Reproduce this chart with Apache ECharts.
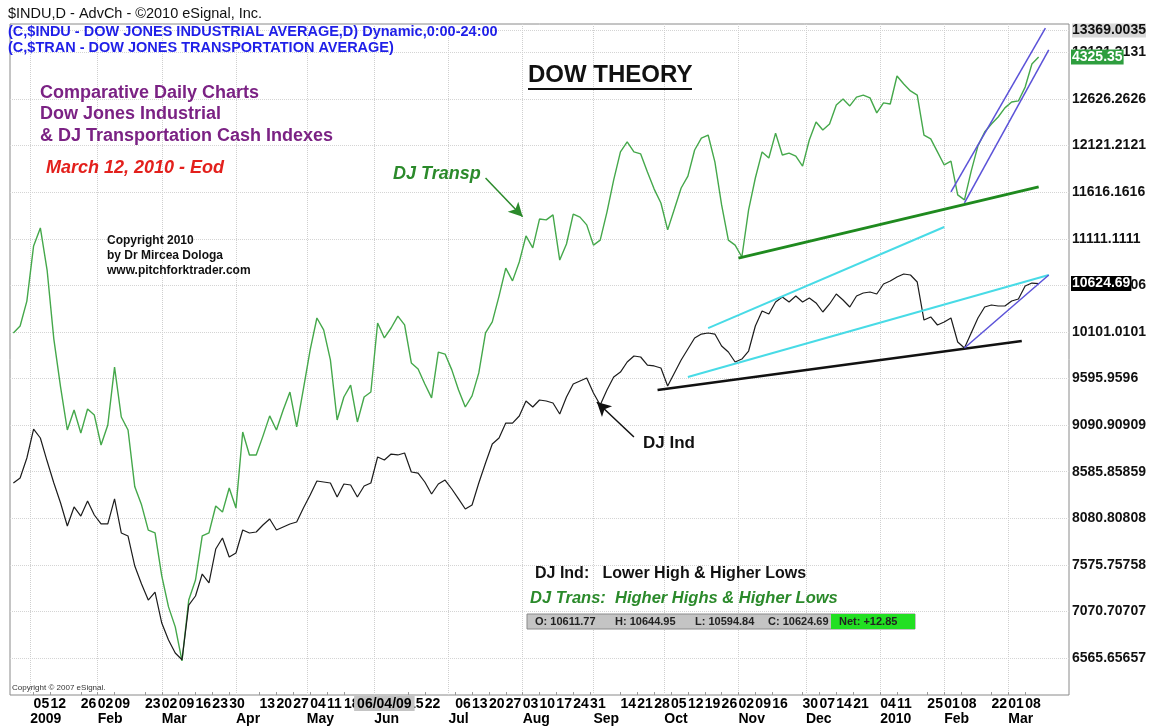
<!DOCTYPE html>
<html>
<head>
<meta charset="utf-8">
<title>Dow Theory</title>
<script src="https://cdn.jsdelivr.net/npm/echarts@6/dist/echarts.min.js"></script>
<style>
html, body { margin: 0; padding: 0; background: #fff; }
#chart { width: 1152px; height: 726px; }
</style>
</head>
<body>
<div id="chart"></div>
<script>
// trading calendar shown on the chart (last bar is Mar 12 2010, the rest is blank space)
var firstDay = '2008-12-23';
var lastDay = '2010-03-25';
var holidays = ['2008-12-25', '2009-01-01', '2009-01-19', '2009-02-16', '2009-04-10', '2009-05-25',
    '2009-07-03', '2009-09-07', '2009-11-26', '2009-12-25', '2010-01-01', '2010-01-18', '2010-02-15'];

// daily closes, every 2nd trading day starting Dec 24 2008 (bar 1)
var indu = [
    8463, 8517, 8734, 9048, 8951, 8701, 8463, 8246, 7997, 8203,
    8105, 8268, 8116, 8019, 8019, 8290, 7921, 7888, 7563, 7368,
    7194, 7281, 6945, 6761, 6620, 6547, 7140, 7238, 7476, 7379,
    7747, 7867, 7661, 7704, 7953, 7921, 7932, 8008, 8073, 7953,
    7986, 8019, 8040, 8192, 8333, 8485, 8474, 8463, 8311, 8452,
    8441, 8311, 8430, 8463, 8745, 8712, 8777, 8767, 8788, 8582,
    8571, 8474, 8344, 8452, 8495, 8398, 8290, 8181, 8224, 8463,
    8680, 8886, 8951, 9113, 9113, 9189, 9352, 9287, 9363, 9352,
    9330, 9211, 9395, 9536, 9569, 9601, 9439, 9309, 9471, 9612,
    9666, 9775, 9840, 9829, 9742, 9732, 9710, 9515, 9656, 9797,
    9916, 10035, 10078, 10089, 10078, 9948, 9883, 9775, 9807, 9894,
    10165, 10328, 10295, 10425, 10480, 10425, 10490, 10425, 10469, 10415,
    10317, 10404, 10512, 10447, 10371, 10490, 10523, 10534, 10512, 10621,
    10653, 10696, 10729, 10718, 10642, 10230, 10263, 10176, 10209, 10252,
    9992, 9927, 10089, 10252, 10371, 10393, 10382, 10382, 10436, 10458,
    10599, 10631, 10624.69
];
var tran = [
    3330, 3355, 3445, 3644, 3709, 3557, 3308, 3135, 2980, 3052,
    2969, 3056, 3034, 2926, 2998, 3207, 3027, 2980, 2775, 2710,
    2619, 2609, 2454, 2342, 2270, 2147, 2367, 2439, 2598, 2609,
    2706, 2684, 2771, 2699, 2973, 2890, 2890, 2958, 3031, 2980,
    3052, 3117, 2991, 3128, 3269, 3384, 3341, 3233, 3016, 3099,
    3142, 3009, 3099, 3117, 3366, 3312, 3348, 3391, 3359, 3222,
    3200, 3146, 3096, 3261, 3254, 3197, 3124, 3063, 3103, 3186,
    3330, 3370, 3463, 3564, 3518, 3586, 3680, 3637, 3741, 3738,
    3756, 3593, 3651, 3759, 3748, 3720, 3647, 3665, 3766, 3882,
    3983, 4019, 3983, 3976, 3911, 3849, 3799, 3702, 3777, 3853,
    3896, 3990, 4033, 4044, 3947, 3792, 3665, 3647, 3604, 3774,
    3889, 3983, 3961, 4051, 3972, 3979, 3968, 3932, 4026, 4091,
    4062, 4084, 4152, 4174, 4149, 4181, 4188, 4178, 4124, 4160,
    4156, 4257, 4228, 4203, 4188, 4044, 4030, 3983, 3936, 3950,
    3828, 3810, 3914, 4005, 4055, 4084, 4109, 4142, 4163, 4167,
    4217, 4300, 4325.35
];
var sampleStart = 1, sampleStep = 2;

var lastIndu = 10624.69;
var lastTran = 4325.35;

// right axis labels as printed by eSignal
var priceLabels = ['6565.65657', '7070.70707', '7575.75758', '8080.80808', '8585.85859', '9090.90909',
    '9595.9596', '10101.0101', '10606.0606', '11111.1111', '11616.1616', '12121.2121', '12626.2626',
    '13131.3131', '13369.0035'];

// bottom axis: weekly day labels, month labels, cursor date box
var dayLabels = ['2009-01-05', '2009-01-12', '2009-01-26', '2009-02-02', '2009-02-09', '2009-02-23',
    '2009-03-02', '2009-03-09', '2009-03-16', '2009-03-23', '2009-03-30', '2009-04-13', '2009-04-20',
    '2009-04-27', '2009-05-04', '2009-05-11', '2009-05-18', '2009-06-15', '2009-06-22', '2009-07-06',
    '2009-07-13', '2009-07-20', '2009-07-27', '2009-08-03', '2009-08-10', '2009-08-17', '2009-08-24',
    '2009-08-31', '2009-09-14', '2009-09-21', '2009-09-28', '2009-10-05', '2009-10-12', '2009-10-19',
    '2009-10-26', '2009-11-02', '2009-11-09', '2009-11-16', '2009-11-30', '2009-12-07', '2009-12-14',
    '2009-12-21', '2010-01-04', '2010-01-11', '2010-01-25', '2010-02-01', '2010-02-08', '2010-02-22',
    '2010-03-01', '2010-03-08'];
var monthLabels = [['2009-01-02', '2009'], ['2009-02-02', 'Feb'], ['2009-03-02', 'Mar'], ['2009-04-01', 'Apr'],
    ['2009-05-01', 'May'], ['2009-06-01', 'Jun'], ['2009-07-01', 'Jul'], ['2009-08-03', 'Aug'],
    ['2009-09-01', 'Sep'], ['2009-10-01', 'Oct'], ['2009-11-02', 'Nov'], ['2009-12-01', 'Dec'],
    ['2010-01-04', '2010'], ['2010-02-01', 'Feb'], ['2010-03-01', 'Mar']];
var cursorDay = ['2009-06-04', '06/04/09'];

// hand drawn trend lines: [bar, value] pairs
var tranSupport = [[216, 3600], [305, 3857]];
var tranChannelHigh = [[279, 3839], [307, 4430]];
var tranChannelLow = [[283, 3799], [308, 4351]];
var induSupport = [[192, 9471], [300, 10003]];
var induCyanHigh = [[207, 10143], [277, 11239]];
var induCyanLow = [[201, 9612], [308, 10718]];
var induChannel = [[283, 9927], [308, 10718]];
var tranArrow = [[141, 3889], [152, 3749]];
var induArrow = [[185, 8962], [174, 9341]];

function iso(d) {
    return d.toISOString().slice(0, 10);
}

var days = [];
var holidaySet = new Set(holidays);
for (var t = Date.parse(firstDay + 'T00:00:00Z'); t <= Date.parse(lastDay + 'T00:00:00Z'); t += 86400000) {
    var d = new Date(t);
    var wd = d.getUTCDay();
    if (wd == 0 || wd == 6 || holidaySet.has(iso(d))) {
        continue;
    }
    days.push(iso(d));
}

var daySet = new Set(dayLabels);
var monthMap = {};
monthLabels.forEach(function (m) { monthMap[m[0]] = m[1]; });
var priceMap = {};
priceLabels.forEach(function (s) { priceMap[parseFloat(s).toFixed(3)] = s; });

function toPairs(arr) {
    return arr.map(function (v, k) { return [sampleStart + k * sampleStep, v]; });
}

var FONT = 'Arial, "Liberation Sans", Helvetica, sans-serif';

function trend(name, pts, color, width, axis) {
    return {
        name: name,
        type: 'line',
        yAxisIndex: axis,
        data: pts,
        symbol: 'none',
        silent: true,
        z: 4,
        lineStyle: { color: color, width: width }
    };
}

function arrow(name, pts, color, axis) {
    return {
        name: name,
        type: 'line',
        yAxisIndex: axis,
        data: [],
        silent: true,
        markLine: {
            silent: true,
            symbol: ['none', 'arrow'],
            symbolSize: [11, 14],
            label: { show: false },
            lineStyle: { color: color, width: 1.5, type: 'solid' },
            data: [[{ coord: pts[0] }, { coord: pts[1] }]]
        }
    };
}

// invisible horizontal line whose end label sits on the price scale
function lastValue(value, bg) {
    return {
        silent: true,
        symbol: 'none',
        lineStyle: { color: 'rgba(0,0,0,0)', width: 0, opacity: 1 },
        label: {
            show: true,
            position: 'end',
            distance: 2,
            formatter: String(value),
            color: '#fff',
            backgroundColor: bg,
            fontFamily: FONT,
            fontWeight: 'bold',
            fontSize: 14,
            padding: [1, 1, 0, 1]
        },
        data: [{ yAxis: value }]
    };
}

function text(x, y, str, font, color) {
    return { type: 'text', x: x, y: y, z: 100, style: { text: str, font: font, fill: color } };
}

var labelFont = { color: '#000', fontFamily: FONT, fontWeight: 'bold', fontSize: 14 };

var option = {
    animation: false,
    backgroundColor: '#fff',
    grid: {
        left: 10,
        right: 83,
        top: 24,
        bottom: 31,
        show: true,
        borderColor: '#8a8a8a',
        borderWidth: 1,
        backgroundColor: '#fff'
    },
    xAxis: [
        {
            type: 'category',
            data: days,
            boundaryGap: false,
            axisLine: { show: false },
            axisTick: {
                show: true,
                inside: true,
                length: 3,
                interval: function (i, v) { return daySet.has(v); },
                lineStyle: { color: '#999' }
            },
            axisLabel: Object.assign({
                interval: function (i, v) { return daySet.has(v); },
                formatter: function (v) { return v.slice(8); },
                align: 'left',
                margin: 2
            }, labelFont),
            splitLine: { show: false }
        },
        {
            type: 'category',
            data: days,
            boundaryGap: false,
            position: 'bottom',
            offset: 15,
            axisLine: { show: false },
            axisTick: { show: false },
            axisLabel: Object.assign({
                interval: function (i, v) { return monthMap[v] !== undefined; },
                formatter: function (v) { return monthMap[v]; },
                align: 'left',
                margin: 2
            }, labelFont),
            splitLine: {
                show: true,
                interval: function (i, v) { return monthMap[v] !== undefined; },
                lineStyle: { color: '#cfcfcf', type: 'dotted', width: 1 }
            }
        },
        {
            // cursor date box drawn over the day labels
            type: 'category',
            data: days,
            boundaryGap: false,
            position: 'bottom',
            axisLine: { show: false },
            axisTick: { show: false },
            splitLine: { show: false },
            axisLabel: Object.assign({
                interval: function (i, v) { return v == cursorDay[0]; },
                formatter: function () { return cursorDay[1]; },
                align: 'center',
                margin: 1,
                backgroundColor: '#c4c4c4',
                padding: [1, 3, 0, 3]
            }, labelFont)
        }
    ],
    yAxis: [
        {
            type: 'value',
            position: 'right',
            min: 6164.5,
            max: 13439.5,
            axisLine: { show: false },
            axisTick: {
                show: false,
                customValues: priceLabels.map(parseFloat)
            },
            axisLabel: {
                customValues: priceLabels.map(parseFloat),
                margin: 3,
                color: '#111',
                fontFamily: FONT,
                fontWeight: 'bold',
                fontSize: 14,
                formatter: function (v) {
                    var s = priceMap[v.toFixed(3)] || String(v);
                    return s == '13369.0035' ? '{top|' + s + '}' : s;
                },
                rich: {
                    top: { backgroundColor: '#d8d8d8', color: '#111', fontFamily: FONT, fontWeight: 'bold', fontSize: 14 }
                }
            },
            splitLine: {
                show: true,
                lineStyle: { color: '#d4d4d4', type: 'dotted', width: 1 }
            }
        },
        {
            type: 'value',
            position: 'right',
            min: 2024.2,
            max: 4444.5,
            show: false,
            splitLine: { show: false }
        }
    ],
    graphic: [
        text(8, 6, '$INDU,D - AdvCh - \u00a92010 eSignal, Inc.', '14.5px ' + FONT, '#111'),
        text(8, 24, '(C,$INDU - DOW JONES INDUSTRIAL AVERAGE,D) Dynamic,0:00-24:00', 'bold 14.5px ' + FONT, '#1f1fe8'),
        text(8, 40, '(C,$TRAN - DOW JONES TRANSPORTATION AVERAGE)', 'bold 14.5px ' + FONT, '#1f1fe8'),
        text(528, 63, 'DOW THEORY', 'bold 24px ' + FONT, '#111'),
        { type: 'line', z: 100, shape: { x1: 528, y1: 89, x2: 692, y2: 89 }, style: { stroke: '#111', lineWidth: 2 } },
        text(40, 84, 'Comparative Daily Charts', 'bold 18px ' + FONT, '#7b2284'),
        text(40, 105, 'Dow Jones Industrial', 'bold 18px ' + FONT, '#7b2284'),
        text(40, 127, '& DJ Transportation Cash Indexes', 'bold 18px ' + FONT, '#7b2284'),
        text(46, 159, 'March 12, 2010 - Eod', 'italic bold 18px ' + FONT, '#e3201c'),
        text(393, 165, 'DJ Transp', 'italic bold 18px ' + FONT, '#2b8a2b'),
        text(107, 235, 'Copyright 2010', 'bold 12px ' + FONT, '#111'),
        text(107, 250, 'by Dr Mircea Dologa', 'bold 12px ' + FONT, '#111'),
        text(107, 265, 'www.pitchforktrader.com', 'bold 12px ' + FONT, '#111'),
        text(643, 435, 'DJ Ind', 'bold 17px ' + FONT, '#111'),
        text(535, 566, 'DJ Ind:   Lower High & Higher Lows', 'bold 16px ' + FONT, '#111'),
        text(530, 590, 'DJ Trans:  Higher Highs & Higher Lows', 'italic bold 16.5px ' + FONT, '#2b8a2b'),
        { type: 'rect', z: 100, shape: { x: 527, y: 614, width: 388, height: 15 }, style: { fill: '#c4c4c4', stroke: '#8a8a8a' } },
        { type: 'rect', z: 101, shape: { x: 831, y: 614, width: 84, height: 15 }, style: { fill: '#22e022' } },
        text(535, 616, 'O: 10611.77', 'bold 11px ' + FONT, '#222'),
        text(615, 616, 'H: 10644.95', 'bold 11px ' + FONT, '#222'),
        text(695, 616, 'L: 10594.84', 'bold 11px ' + FONT, '#222'),
        text(768, 616, 'C: 10624.69', 'bold 11px ' + FONT, '#222'),
        { type: 'text', x: 839, y: 616, z: 102, style: { text: 'Net: +12.85', font: 'bold 11px ' + FONT, fill: '#222' } },
        text(12, 684, 'Copyright \u00a9 2007 eSignal.', '8px ' + FONT, '#333')
    ],
    series: [
        {
            name: 'DJ Transportation',
            type: 'line',
            yAxisIndex: 1,
            data: toPairs(tran),
            symbol: 'none',
            z: 3,
            lineStyle: { color: '#45a84b', width: 1.4 },
            markLine: lastValue(lastTran, '#2e9e3e')
        },
        {
            name: 'DJ Industrial',
            type: 'line',
            yAxisIndex: 0,
            data: toPairs(indu),
            symbol: 'none',
            z: 3,
            lineStyle: { color: '#1c1c1c', width: 1.2 },
            markLine: lastValue(lastIndu, '#000')
        },
        trend('tran support', tranSupport, '#1f8a1f', 3, 1),
        trend('tran channel high', tranChannelHigh, '#5b52d8', 1.5, 1),
        trend('tran channel low', tranChannelLow, '#5b52d8', 1.5, 1),
        trend('indu support', induSupport, '#111', 2.5, 0),
        trend('indu cyan high', induCyanHigh, '#48dbe6', 2, 0),
        trend('indu cyan low', induCyanLow, '#48dbe6', 2, 0),
        trend('indu channel', induChannel, '#5b52d8', 1.5, 0),
        arrow('transp arrow', tranArrow, '#2b8a2b', 1),
        arrow('ind arrow', induArrow, '#111', 0)
    ]
};

var myChart = echarts.init(document.getElementById('chart'));
myChart.setOption(option);
</script>
</body>
</html>
